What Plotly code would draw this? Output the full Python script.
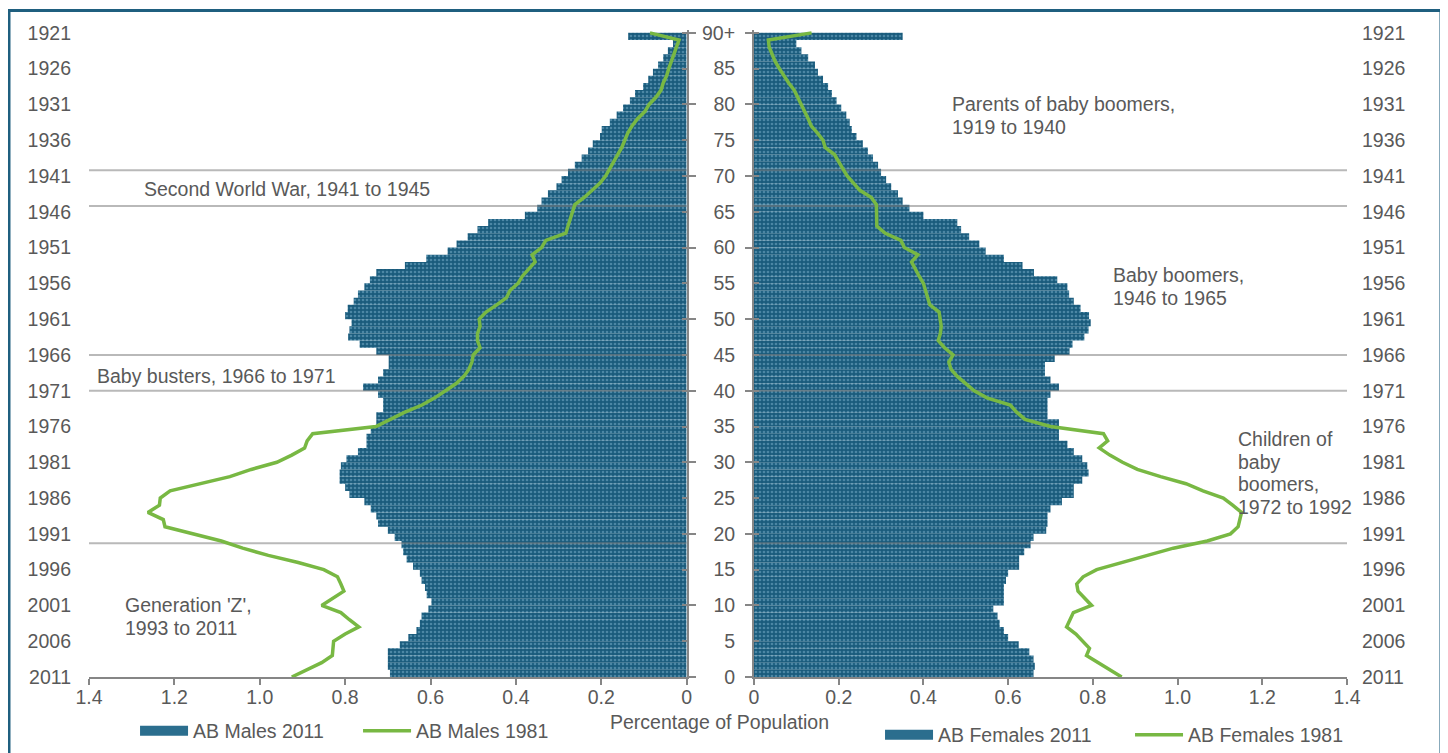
import plotly.graph_objects as go

# ---------------- data ----------------
bar_ages = list(range(0, 90))          # single-year age groups (top one = 90+)
line_ages = list(range(0, 91))         # 1981 profile points
tick_ages = [0, 5, 10, 15, 20, 25, 30, 35, 40, 45, 50, 55, 60, 65, 70, 75, 80, 85, 90]
major_tick_ages = [0, 10, 20, 30, 40, 50, 60, 70, 80, 90]
age_labels = ["0", "5", "10", "15", "20", "25", "30", "35", "40", "45", "50",
              "55", "60", "65", "70", "75", "80", "85", "90+"]
birth_year_labels = ["2011", "2006", "2001", "1996", "1991", "1986", "1981", "1976",
                     "1971", "1966", "1961", "1956", "1951", "1946", "1941", "1936",
                     "1931", "1926", "1921"]
pct_ticks = [0, 0.2, 0.4, 0.6, 0.8, 1.0, 1.2, 1.4]
pct_labels = ["0", "0.2", "0.4", "0.6", "0.8", "1.0", "1.2", "1.4"]

males_2011 = [0.695, 0.70, 0.70, 0.70, 0.672, 0.652, 0.633, 0.625, 0.621, 0.605,
              0.598, 0.609, 0.613, 0.621, 0.625, 0.641, 0.656, 0.664, 0.668, 0.684,
              0.70, 0.723, 0.727, 0.74, 0.755, 0.79, 0.80, 0.813, 0.813, 0.81,
              0.797, 0.77, 0.75, 0.75, 0.74, 0.727, 0.727, 0.711, 0.711, 0.723,
              0.758, 0.723, 0.711, 0.698, 0.698, 0.727, 0.766, 0.793, 0.79, 0.785,
              0.80, 0.794, 0.78, 0.77, 0.755, 0.742, 0.727, 0.66, 0.61, 0.56,
              0.539, 0.513, 0.49, 0.465, 0.379, 0.35, 0.34, 0.325, 0.305, 0.293,
              0.278, 0.262, 0.246, 0.231, 0.22, 0.203, 0.199, 0.18, 0.164, 0.149,
              0.133, 0.121, 0.102, 0.09, 0.079, 0.067, 0.055, 0.044, 0.032, 0.137]

females_2011 = [0.66, 0.663, 0.66, 0.65, 0.625, 0.60, 0.59, 0.58, 0.575, 0.565,
                0.59, 0.59, 0.59, 0.595, 0.60, 0.626, 0.626, 0.638, 0.653, 0.66,
                0.69, 0.693, 0.693, 0.70, 0.727, 0.755, 0.755, 0.775, 0.79, 0.787,
                0.775, 0.755, 0.74, 0.72, 0.72, 0.72, 0.693, 0.693, 0.693, 0.70,
                0.72, 0.70, 0.687, 0.687, 0.71, 0.745, 0.752, 0.78, 0.79, 0.795,
                0.791, 0.771, 0.755, 0.744, 0.74, 0.716, 0.661, 0.634, 0.59, 0.547,
                0.532, 0.508, 0.489, 0.48, 0.40, 0.367, 0.351, 0.34, 0.324, 0.312,
                0.30, 0.293, 0.281, 0.269, 0.257, 0.242, 0.231, 0.226, 0.218, 0.206,
                0.195, 0.184, 0.175, 0.163, 0.151, 0.144, 0.128, 0.112, 0.10, 0.351]

males_1981 = [0.925, 0.89, 0.855, 0.83, 0.828, 0.827, 0.80, 0.768, 0.79, 0.81,
              0.855, 0.83, 0.803, 0.81, 0.818, 0.85, 0.91, 0.98, 1.04, 1.09,
              1.155, 1.222, 1.226, 1.262, 1.235, 1.233, 1.21, 1.14, 1.07, 1.02,
              0.96, 0.925, 0.895, 0.889, 0.876, 0.728, 0.695, 0.66, 0.62, 0.59,
              0.565, 0.54, 0.522, 0.51, 0.503, 0.50, 0.484, 0.49, 0.49, 0.484,
              0.486, 0.47, 0.445, 0.422, 0.414, 0.395, 0.385, 0.37, 0.355, 0.362,
              0.34, 0.33, 0.283, 0.278, 0.272, 0.267, 0.262, 0.24, 0.22, 0.203,
              0.19, 0.18, 0.172, 0.162, 0.152, 0.145, 0.138, 0.128, 0.115, 0.098,
              0.088, 0.072, 0.06, 0.055, 0.047, 0.042, 0.037, 0.03, 0.024, 0.018,
              0.086]

females_1981 = [0.868, 0.84, 0.81, 0.785, 0.792, 0.775, 0.76, 0.738, 0.745, 0.754,
                0.797, 0.78, 0.765, 0.762, 0.777, 0.809, 0.87, 0.927, 0.99, 1.07,
                1.125, 1.143, 1.148, 1.151, 1.13, 1.108, 1.06, 1.02, 0.96, 0.905,
                0.87, 0.84, 0.815, 0.835, 0.825, 0.70, 0.64, 0.62, 0.605, 0.55,
                0.52, 0.50, 0.48, 0.465, 0.46, 0.47, 0.45, 0.435, 0.44, 0.442,
                0.44, 0.437, 0.415, 0.41, 0.405, 0.40, 0.39, 0.38, 0.372, 0.387,
                0.355, 0.347, 0.31, 0.29, 0.289, 0.289, 0.289, 0.277, 0.25, 0.235,
                0.22, 0.21, 0.20, 0.19, 0.168, 0.163, 0.15, 0.135, 0.128, 0.12,
                0.112, 0.104, 0.095, 0.082, 0.07, 0.06, 0.05, 0.042, 0.036, 0.034,
                0.136]

cohort_boundaries = [70.8, 65.8, 45.0, 40.0, 18.7]
pct_span = [0, 1.4]

# ---------------- styles ----------------
FONT = "Liberation Sans, Arial, sans-serif"
FS = 19.5
GREY_TXT = "#595959"
AXIS_GREY = "#868686"
GREEN = "#78B843"
BAR_BG = "#1A5B7C"
BAR_DOT = "#7DB4CE"
BAR_SWATCH = "#2B6E8E"
SEP = "rgba(128,128,128,0.55)"

bar_marker = dict(color=BAR_BG, line=dict(width=0),
                  pattern=dict(shape=".", fgcolor=BAR_DOT, bgcolor=BAR_BG,
                               size=4, solidity=0.35))

fig = go.Figure()

# bars
fig.add_trace(go.Bar(x=males_2011, y=bar_ages, orientation="h", width=1, offset=0,
                     marker=bar_marker, name="AB Males 2011", showlegend=False,
                     xaxis="x", yaxis="y"))
fig.add_trace(go.Bar(x=females_2011, y=bar_ages, orientation="h", width=1, offset=0,
                     marker=bar_marker, name="AB Females 2011", showlegend=False,
                     xaxis="x2", yaxis="y2"))

# wide legend swatches for the bar series (legend-only proxies)
fig.add_trace(go.Scatter(x=[None], y=[None], mode="lines", name="AB Males 2011",
                         line=dict(color=BAR_SWATCH, width=13),
                         xaxis="x", yaxis="y", legend="legend", hoverinfo="skip"))
fig.add_trace(go.Scatter(x=[None], y=[None], mode="lines", name="AB Females 2011",
                         line=dict(color=BAR_SWATCH, width=13),
                         xaxis="x2", yaxis="y2", legend="legend2", hoverinfo="skip"))

# cohort separator lines
for b in cohort_boundaries:
    for xa, ya in (("x", "y"), ("x2", "y2")):
        fig.add_trace(go.Scatter(x=pct_span, y=[b, b], mode="lines",
                                 line=dict(color=SEP, width=2), showlegend=False,
                                 hoverinfo="skip", xaxis=xa, yaxis=ya))

# 1981 lines
fig.add_trace(go.Scatter(x=males_1981, y=line_ages, mode="lines",
                         line=dict(color=GREEN, width=3.5), name="AB Males 1981",
                         xaxis="x", yaxis="y", legend="legend"))
fig.add_trace(go.Scatter(x=females_1981, y=line_ages, mode="lines",
                         line=dict(color=GREEN, width=3.5), name="AB Females 1981",
                         xaxis="x2", yaxis="y2", legend="legend2"))

# invisible helpers so the overlay label/tick axes get drawn
for xa, ya in (("x", "y3"), ("x", "y5"), ("x2", "y4"), ("x2", "y6")):
    fig.add_trace(go.Scatter(x=[pct_ticks[0]], y=[tick_ages[0]], mode="markers",
                             marker=dict(opacity=0, size=1), showlegend=False,
                             hoverinfo="skip", xaxis=xa, yaxis=ya))

YR = [0, 90.4]
L_DOM = [0, 0.4751]
R_DOM = [0.5286, 1.0]

xcommon = dict(tickvals=pct_ticks, ticktext=pct_labels, showline=True,
               linecolor=AXIS_GREY, linewidth=2, ticks="outside", ticklen=6,
               tickcolor=AXIS_GREY, tickwidth=2, showgrid=False, zeroline=False,
               ticklabelstandoff=-4, fixedrange=True)

# The page body adds an 8px margin, so the figure is 8px smaller on each axis
fig.update_layout(
    width=1440, height=745,
    margin=dict(l=81, r=101, t=22, b=76, autoexpand=False),
    plot_bgcolor="white", paper_bgcolor="white",
    font=dict(family=FONT, size=FS, color=GREY_TXT),
    barmode="overlay",
    xaxis=dict(domain=L_DOM, range=[1.4, 0], anchor="y", **xcommon),
    xaxis2=dict(domain=R_DOM, range=[0, 1.4], anchor="y2", **xcommon),
    yaxis=dict(domain=[0, 1], range=YR, anchor="x", side="right", showline=True,
               linecolor=AXIS_GREY, linewidth=2, ticks="inside", ticklen=5,
               tickcolor=AXIS_GREY, tickwidth=2, tickvals=tick_ages,
               showticklabels=False, showgrid=False, zeroline=False, fixedrange=True),
    yaxis3=dict(range=YR, overlaying="y", anchor="x", side="left", showline=False,
                ticks="", tickvals=tick_ages, ticktext=birth_year_labels,
                ticklabelstandoff=17, showgrid=False, zeroline=False, fixedrange=True),
    yaxis5=dict(range=YR, overlaying="y", anchor="x", side="right", showline=False,
                ticks="outside", ticklen=8, tickcolor=AXIS_GREY, tickwidth=2,
                tickvals=major_tick_ages, showticklabels=False, showgrid=False,
                zeroline=False, fixedrange=True),
    yaxis2=dict(domain=[0, 1], range=YR, anchor="x2", side="left", showline=True,
                linecolor=AXIS_GREY, linewidth=2, ticks="inside", ticklen=5,
                tickcolor=AXIS_GREY, tickwidth=2, tickvals=tick_ages,
                ticktext=age_labels, ticklabelstandoff=13, showgrid=False,
                zeroline=False, fixedrange=True),
    yaxis4=dict(range=YR, overlaying="y2", anchor="x2", side="right", showline=False,
                ticks="", tickvals=tick_ages, ticktext=birth_year_labels,
                ticklabelstandoff=14, showgrid=False, zeroline=False, fixedrange=True),
    yaxis6=dict(range=YR, overlaying="y2", anchor="x2", side="left", showline=False,
                ticks="outside", ticklen=8, tickcolor=AXIS_GREY, tickwidth=2,
                tickvals=major_tick_ages, showticklabels=False, showgrid=False,
                zeroline=False, fixedrange=True),
    legend=dict(orientation="h", x=0.0366, y=-0.0835, xanchor="left", yanchor="middle",
                font=dict(size=FS, color=GREY_TXT), itemwidth=48, entrywidth=160,
                entrywidthmode="pixels", bgcolor="rgba(0,0,0,0)", traceorder="normal"),
    legend2=dict(orientation="h", x=0.6288, y=-0.0896, xanchor="left", yanchor="middle",
                 font=dict(size=FS, color=GREY_TXT), itemwidth=48, entrywidth=187,
                 entrywidthmode="pixels", bgcolor="rgba(0,0,0,0)", traceorder="normal"),
    showlegend=True,
)

# text annotations (one per line, stacked with a tight line spacing)
LINE_PX = 22.7
notes = [
    (["Second World War, 1941 to 1945"], "x", "y", 1.275, 68.2),
    (["Baby busters, 1966 to 1971"], "x", "y", 1.387, 42.0),
    (["Generation 'Z',", "1993 to 2011"], "x", "y", 1.321, 8.5),
    (["Parents of baby boomers,", "1919 to 1940"], "x2", "y2", 0.463, 78.5),
    (["Baby boomers,", "1946 to 1965"], "x2", "y2", 0.843, 54.6),
    (["Children of", "baby", "boomers,", "1972 to 1992"], "x2", "y2", 1.137, 28.5),
]
for lines, xr, yr, xv, yv in notes:
    n = len(lines)
    for i, text in enumerate(lines):
        shift = ((n - 1) / 2 - i) * LINE_PX
        fig.add_annotation(text=text, xref=xr, yref=yr, x=xv, y=yv, yshift=shift,
                           xanchor="left", yanchor="middle", align="left",
                           showarrow=False,
                           font=dict(size=FS, color=GREY_TXT, family=FONT))

fig.add_annotation(text="Percentage of Population", xref="paper", yref="paper",
                   x=0.5008, y=-0.0696, xanchor="center", yanchor="middle",
                   showarrow=False, font=dict(size=FS, color=GREY_TXT, family=FONT))

# outer frame
fig.add_shape(type="rect", xref="paper", yref="paper", x0=-0.0636, x1=1.0747,
              y0=-0.1437, y1=1.0301, line=dict(color="#1F5F7F", width=3),
              fillcolor="rgba(0,0,0,0)", layer="above")

fig.write_html("out.html")
